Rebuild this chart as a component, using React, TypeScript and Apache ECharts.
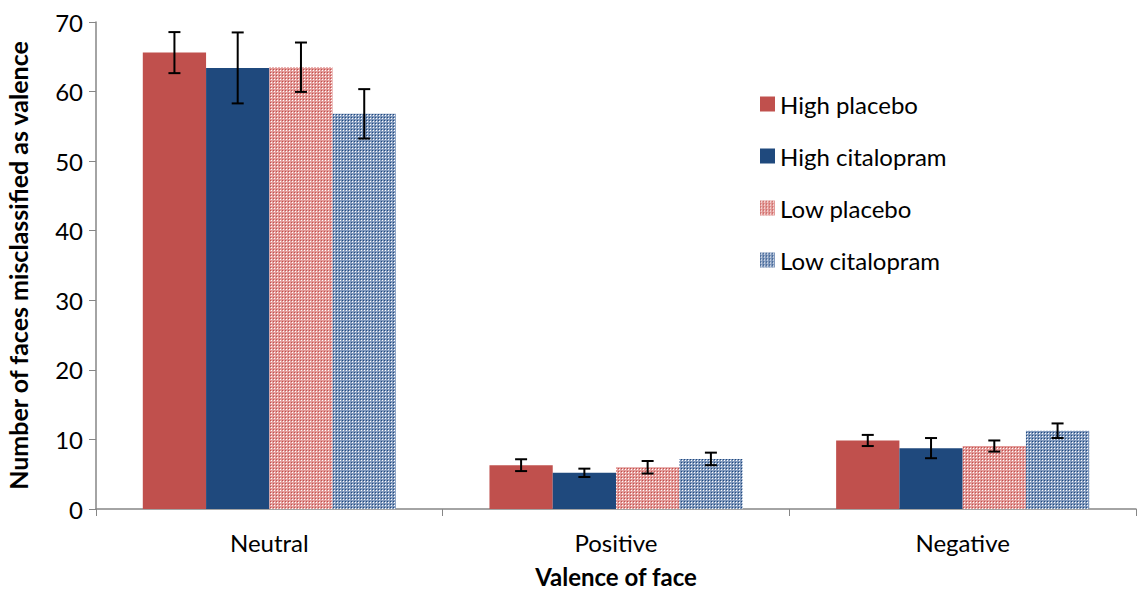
import React, { useEffect, useRef } from "react";
import * as echarts from "echarts";

const categories = ["Neutral", "Positive", "Negative"];
const seriesNames = ["High placebo", "High citalopram", "Low placebo", "Low citalopram"];
const highPlacebo = [65.6, 6.3, 9.85];
const highCitalopram = [63.4, 5.2, 8.75];
const lowPlacebo = [63.5, 6.0, 9.05];
const lowCitalopram = [56.8, 7.2, 11.25];
const highPlaceboErr = [2.95, 0.85, 0.8];
const highCitalopramErr = [5.1, 0.6, 1.45];
const lowPlaceboErr = [3.55, 0.9, 0.8];
const lowCitalopramErr = [3.55, 0.9, 1.05];

const seriesValues = [highPlacebo, highCitalopram, lowPlacebo, lowCitalopram];
const seriesErrors = [highPlaceboErr, highCitalopramErr, lowPlaceboErr, lowCitalopramErr];

const RED = "#c0504d";
const BLUE = "#1f497d";
const CATEGORY_GAP = 0.27;
const FONT = "Lato";

// Small repeating checker tile used for the "Low" groups
function checkerTile(base: string, dark: string): HTMLCanvasElement {
  const c = document.createElement("canvas");
  c.width = 3;
  c.height = 3;
  const ctx = c.getContext("2d")!;
  ctx.fillStyle = base;
  ctx.fillRect(0, 0, 3, 3);
  ctx.fillStyle = "#ffffff";
  ctx.fillRect(1, 1, 1, 1);
  ctx.fillStyle = dark;
  ctx.fillRect(0, 0, 1, 1);
  return c;
}

export default function App() {
  const ref = useRef<HTMLDivElement>(null);

  useEffect(() => {
    if (!ref.current) return;
    const chart = echarts.init(ref.current, undefined, { renderer: "svg" });

    const colors: any[] = [
      RED,
      BLUE,
      { image: checkerTile("#e39a98", RED), repeat: "repeat" },
      { image: checkerTile("#8199bd", BLUE), repeat: "repeat" },
    ];

    const barSeries = seriesNames.map((name, i) => ({
      name,
      type: "bar",
      data: seriesValues[i],
      barGap: "0%",
      barCategoryGap: CATEGORY_GAP * 100 + "%",
      itemStyle: { color: colors[i] },
    }));

    const errData: number[][] = [];
    seriesValues.forEach((vals, s) => {
      vals.forEach((v, c) => {
        errData.push([c, v - seriesErrors[s][c], v + seriesErrors[s][c], s]);
      });
    });

    const errorSeries = {
      type: "custom",
      name: "error",
      data: errData,
      z: 10,
      encode: { x: 0, y: [1, 2] },
      renderItem: (params: any, api: any) => {
        const c = api.value(0);
        const lo = api.value(1);
        const hi = api.value(2);
        const s = api.value(3);
        const band = api.size([1, 0])[0];
        const bw = (band * (1 - CATEGORY_GAP)) / 4;
        const center = api.coord([c, 0])[0];
        const x = center + (s - 1.5) * bw;
        const yLo = api.coord([c, lo])[1];
        const yHi = api.coord([c, hi])[1];
        const cap = 6;
        const style = { stroke: "#000", lineWidth: 2 };
        return {
          type: "group",
          children: [
            { type: "line", shape: { x1: x, y1: yLo, x2: x, y2: yHi }, style },
            { type: "line", shape: { x1: x - cap, y1: yLo, x2: x + cap, y2: yLo }, style },
            { type: "line", shape: { x1: x - cap, y1: yHi, x2: x + cap, y2: yHi }, style },
          ],
        };
      },
    };

    chart.setOption({
      animation: false,
      textStyle: { fontFamily: FONT },
      grid: {
        left: 96,
        right: 3,
        top: 22,
        bottom: 82,
        containLabel: false,
        outerBoundsMode: "none",
      },
      legend: {
        data: seriesNames,
        orient: "vertical",
        left: 755,
        top: 87,
        itemWidth: 15,
        itemHeight: 15,
        itemGap: 28,
        icon: "rect",
        textStyle: { fontSize: 24, color: "#000", fontFamily: FONT },
      },
      xAxis: {
        type: "category",
        data: categories,
        name: "Valence of face",
        nameLocation: "middle",
        nameGap: 55,
        nameTextStyle: { fontSize: 24, fontWeight: "bold", color: "#000", fontFamily: FONT },
        axisLine: { lineStyle: { color: "#868686", width: 1.5 } },
        axisTick: { show: true, length: 7, lineStyle: { color: "#868686" } },
        axisLabel: { fontSize: 24, color: "#000", margin: 21, fontFamily: FONT },
      },
      yAxis: {
        type: "value",
        min: 0,
        max: 70,
        interval: 10,
        name: "Number of faces misclassified as valence",
        nameLocation: "middle",
        nameGap: 66,
        nameTextStyle: { fontSize: 25, fontWeight: "bold", color: "#000", fontFamily: FONT },
        axisLine: { show: true, lineStyle: { color: "#868686", width: 1.5 } },
        axisTick: { show: true, length: 7, inside: false, lineStyle: { color: "#868686" } },
        axisLabel: { fontSize: 24, color: "#000", margin: 13, fontFamily: FONT },
        splitLine: { show: false },
      },
      series: [...barSeries, errorSeries],
    });

    return () => chart.dispose();
  }, []);

  return (
    <div
      ref={ref}
      style={{ position: "absolute", left: 0, top: 0, width: 1139, height: 591, background: "#fff" }}
    />
  );
}
